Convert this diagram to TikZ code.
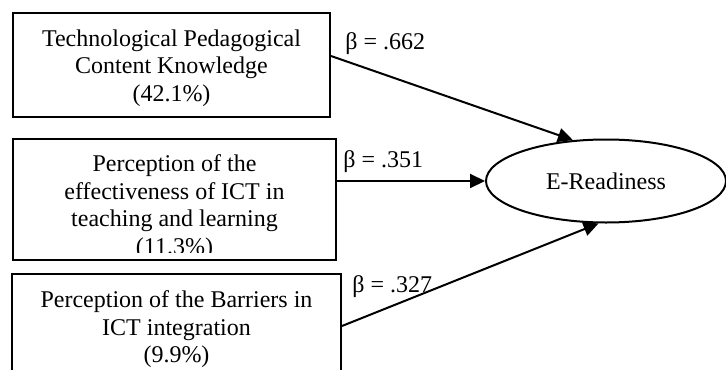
\documentclass[tikz,border=0pt]{standalone}
\usepackage{fontspec}
\setmainfont{Liberation Serif}
\usetikzlibrary{arrows.meta,shapes.geometric}

\tikzset{
  box/.style={draw, line width=1pt, inner sep=0pt},
  link/.style={line width=1pt, -{Triangle[length=7.5pt,width=7pt]}},
  coef/.style={anchor=base west, inner sep=0pt}
}

\begin{document}
\begin{tikzpicture}[x=0.5pt, y=-0.5pt, font=\fontsize{12}{13.8}\selectfont]
        \useasboundingbox (0,0) rectangle (726,369);
        \clip (0,0) rectangle (726,369);

        \node[box, minimum width=158.5pt, minimum height=52pt] (tpack) at (171.5,65) {};
        \node[anchor=base, align=center] (tpacktxt) at (171.5,101.2) {Technological Pedagogical\\ Content Knowledge\\ (42.1\%)};

        \node[box, minimum width=161.5pt, minimum height=60.5pt] (eff) at (174.5,199) {};
        \begin{scope}
            \clip (13,139) rectangle (336,252);
            \node[anchor=base, align=center] (efftxt) at (174.5,254.3) {Perception of the\\ effectiveness of ICT in\\ teaching and learning\\ (11.3\%)};
        \end{scope}

        \node[box, minimum width=164.5pt, minimum height=52pt] (barr) at (176.5,326) {};
        \node[anchor=base, align=center] (barrtxt) at (176.5,362.7) {Perception of the Barriers in\\ ICT integration\\ (9.9\%)};

        \node[draw, ellipse, line width=1pt, inner sep=0pt, minimum width=120pt, minimum height=41.5pt] (ready) at (606,181) {E-Readiness};

        \draw[link] ([yshift=4.5pt]tpack.east) -- (ready.129);
        \draw[link] (eff.east |- ready.west) -- (ready.west);
        \draw[link] (barr.east) -- (ready.260);

        \node[coef] (b1) at (345,50) {β = .662};
        \node[coef] (b2) at (343,167) {β = .351};
        \node[coef] (b3) at (352,292) {β = .327};
    \end{tikzpicture}
\end{document}
